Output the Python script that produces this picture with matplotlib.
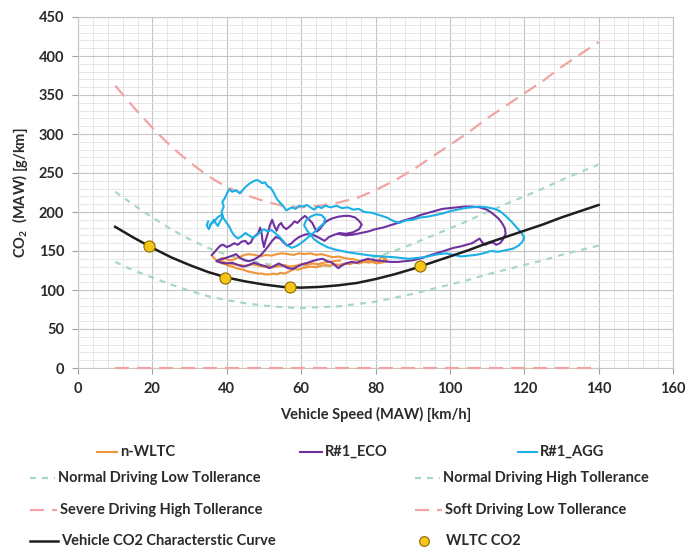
import matplotlib.pyplot as plt
from matplotlib.lines import Line2D
from matplotlib.ticker import MultipleLocator

plt.rcParams['font.family'] = ['Lato', 'DejaVu Sans']
plt.rcParams['mathtext.default'] = 'regular'

# characteristic curve and tolerance bands
speed = [10, 15, 20, 25, 30, 35, 40, 45, 50, 55, 60, 65, 70, 75, 80, 85, 90, 95, 100,
         105, 110, 115, 120, 125, 130, 135, 140]
char_curve = [181, 167, 154, 142, 132, 123, 116, 111, 107, 104, 103, 104, 106, 109, 114, 120, 127, 135, 143,
              151, 160, 168, 176, 184, 193, 201, 209]
normal_low = [136, 125, 116, 107, 99, 92, 87, 83, 80, 78, 77, 78, 79, 82, 85, 90, 95, 101, 107,
              113, 120, 126, 132, 138, 145, 151, 157]
normal_high = [226, 209, 193, 178, 165, 154, 145, 139, 134, 130, 129, 130, 132, 136, 142, 150, 159, 169, 179,
               189, 200, 210, 220, 230, 241, 251, 261]
severe_high = [362, 334, 308, 284, 264, 246, 232, 222, 214, 208, 206, 208, 212, 218, 228, 240, 254, 270, 286,
               302, 320, 336, 352, 368, 386, 402, 418]
soft_low = [0] * len(speed)

wltc_speed = [19, 39.5, 57, 92]
wltc_co2 = [156, 115, 104, 131]

# moving averaging window traces
nwltc_x = [36, 36.6, 37.3, 38, 38.8, 39.6, 40.5, 41.5, 42.5, 43.5, 44.5, 45.5, 46.5, 47.5, 48.5, 49.5, 50.5,
           51.5, 52.5, 53.5, 54.5, 55.5, 56.5, 57.3, 58.2, 59.2, 60.3, 61.5, 62.8, 64, 65.3, 66.5, 67.8, 69,
           70.3, 71.6, 73, 74.3, 75.6, 77, 78.3, 79.5, 80.5, 81.2, 81.8, 82.3, 82.7, 83, 82.4, 81.5, 80.3,
           79, 77.5, 76, 74.5, 73, 71.5, 70, 68.5, 67, 65.5, 64, 62.5, 61, 59.5, 58, 56.5, 55, 53.5,
           52, 50.5, 49, 47.5, 46, 44.8, 43.8, 42.8, 41.8, 40.8, 39.8, 38.8, 38, 39.2, 40.5, 42, 43.5,
           45, 46.5, 48, 49.5, 51, 52.5, 54, 55.5, 57, 58.5, 60, 61.5, 63, 64.5, 66, 67.5, 69, 70.5]
nwltc_y = [144, 141, 138, 136, 134, 133, 131, 130, 128, 127, 126, 124, 123, 122, 121, 121, 120,
           120, 121, 120, 122, 121, 123, 125, 127, 126, 128, 129, 130, 129, 131, 132, 131, 133,
           132, 134, 133, 135, 134, 136, 135, 137, 136, 140, 144, 139, 141, 137, 136, 135, 134,
           136, 138, 137, 139, 140, 141, 143, 142, 144, 146, 145, 147, 146, 147, 145, 146, 147, 146,
           144, 145, 143, 145, 146, 145, 143, 141, 139, 138, 140, 141, 139, 136, 134, 133, 132,
           131, 133, 132, 130, 131, 129, 131, 132, 130, 131, 133, 132, 134, 133, 135, 136, 137, 138]

eco_x = [36, 36.8, 37.5, 38.3, 39, 40, 41, 42, 43, 44, 45, 45.7, 46.5, 47, 47.8, 48.5, 49, 49.4, 49.6, 50,
         50.4, 51, 51.6, 52.2, 52.8, 53.4, 54, 54.6, 55.2, 56, 56.8, 57.5, 58.2, 59, 60, 61, 62, 63, 63.7,
         64.3, 65, 65.8, 66.5, 67.5, 68.5, 70, 71.5, 73, 74.5, 75.5, 76.3, 75.6, 74, 72, 70.5, 69, 67.5,
         66.3, 65.2, 64, 62.5, 61, 59.5, 58.3, 57.2, 56.2, 55.3, 54.3, 53.2, 52.2, 51.3, 50.3, 49.4, 48.4,
         47.3, 46, 44.8, 43.6, 42.5, 41.5, 40.3, 39, 38, 37.2, 38.5, 40, 41.5, 43, 44.5, 46, 47.3, 48.6,
         50, 51.5, 52.8, 54, 55.2, 56.5, 57.8, 59, 60.3, 61.8, 63, 64.5, 65.8, 67, 68.3, 69.3, 70, 70.8,
         72, 73.5, 75, 76.5, 78, 80, 82, 84, 86, 88, 90, 92.5, 95, 97, 99, 101, 103, 104.5, 106, 107,
         108, 108.7, 109.5, 110.5, 111.5, 112.5, 113.5, 114.3, 115, 114.8, 114, 113, 111.5, 110, 108, 106,
         104, 102, 100, 98, 96.5, 95, 93.5, 92, 90.5, 89, 87.5, 86, 84, 82, 80, 78, 76, 74, 72, 70]
eco_y = [145, 149, 153, 157, 158, 155, 157, 160, 158, 162, 163, 159, 161, 166, 170, 173, 180, 172, 164, 155,
         163, 172, 183, 190, 182, 176, 183, 186, 181, 178, 181, 184, 188, 186, 191, 195, 191, 186, 179,
         175, 178, 183, 187, 190, 192, 194, 195, 195, 193, 189, 184, 178, 174, 172, 173, 171, 168,
         163, 166, 169, 172, 171, 168, 164, 159, 157, 161, 166, 168, 163, 157, 151, 146, 142,
         139, 137, 138, 141, 146, 144, 142, 140, 139, 137, 135, 134, 135, 132, 130, 132, 135, 133,
         131, 128, 131, 134, 131, 128, 127, 130, 133, 135, 137, 139, 140, 137, 135, 131, 128, 131,
         134, 136, 135, 138, 140, 138, 137, 136, 136, 137, 138, 141, 145, 148, 151, 154, 156, 158, 160, 163,
         166, 161, 158, 160, 161, 158, 160, 165, 172, 179, 186, 192, 198, 203, 206, 207,
         207, 206, 205, 204, 202, 200, 198, 196, 193, 191, 189, 186, 183, 180, 178, 175, 173, 171, 170, 172]

agg_x = [35, 34.6, 35.2, 35.8, 36.5, 37, 37.6, 38.2, 39, 38.6, 39.2, 38.8, 39.5, 40, 40.6, 41.5, 42.5, 43.5,
         44.3, 45, 46, 47, 48, 48.7, 49.5, 50.3, 51, 51.8, 52.5, 53, 53.6, 54.5, 55.3, 56, 56.8, 57.5, 58.5,
         59.5, 60.5, 61.5, 62.5, 63.5, 64.5, 65.5, 66.5, 68, 69.5, 71, 72.5, 74, 75.5, 77, 79, 81, 83, 85,
         86.5, 88, 90, 92, 94, 96, 98, 100, 102, 104, 106, 108, 110, 112, 113.5, 115, 116.5, 118, 119.3,
         120, 119.5, 118.5, 117, 115, 113, 111, 109, 107, 105, 103, 101, 99, 97, 95, 93, 91, 89, 87, 85,
         82, 79, 76, 73, 71, 69, 67, 65, 63.5, 62.5, 61.5, 60.8, 61.3, 62.5, 64, 65.5, 66.5, 66, 64.8,
         63.5, 62, 60.5, 59, 57.5, 56, 55, 54, 53, 52, 51, 50, 49, 48, 47, 46, 45, 44, 43, 42, 41.3, 40.7,
         40, 39.3, 38.5, 37.5, 36.5, 35.5]
agg_y = [188, 183, 178, 185, 190, 186, 182, 188, 194, 200, 207, 213, 218, 223, 229, 226, 228, 224,
         228, 232, 236, 239, 241, 240, 237, 238, 233, 231, 226, 221, 216, 211, 207, 202, 204, 206, 204,
         208, 207, 209, 206, 203, 207, 205, 208, 206, 208, 205, 206, 203, 204, 200, 199, 196, 193, 188,
         186, 189, 190, 193, 194, 196, 198, 201, 203, 205, 206, 207, 206, 204, 201, 195, 188, 180, 173,
         167, 162, 157, 153, 151, 149, 150, 147, 145, 144, 143, 145, 147, 146, 144, 142, 141, 140, 141, 142,
         143, 144, 146, 148, 150, 152, 155, 160, 165, 171, 177, 183, 189, 194, 197, 196, 191, 185, 180,
         174, 168, 162, 157, 154, 158, 164, 169, 173, 177, 175, 178, 174, 170, 167, 170, 173, 169, 166, 170, 175, 181,
         186, 191, 196, 193, 187, 184]

orange = '#f0953a'
purple = '#7030a0'
cyan = '#1cb0e8'
green = '#a6d8c2'
pink = '#f2a3a3'
dark = '#1e1e1e'

styles = {
    'green': dict(color=green, lw=1.6, dashes=(2.7, 2.7)),
    'pink': dict(color=pink, lw=1.6, dashes=(6.3, 3.6)),
    'black': dict(color=dark, lw=1.8),
    'orange': dict(color=orange, lw=1.5),
    'purple': dict(color=purple, lw=1.5),
    'cyan': dict(color=cyan, lw=1.5),
}

W, H = 692, 550
fig = plt.figure(figsize=(W / 100, H / 100), dpi=100)
ax = fig.add_axes([78 / W, 1 - 368 / H, 595 / W, 351 / H])

ax.plot(speed, normal_low, **styles['green'])
ax.plot(speed, normal_high, **styles['green'])
ax.plot(speed, severe_high, **styles['pink'])
ax.plot(speed, soft_low, clip_on=False, zorder=3, **styles['pink'])
ax.plot(nwltc_x, nwltc_y, **styles['orange'])
ax.plot(eco_x, eco_y, **styles['purple'])
ax.plot(agg_x, agg_y, **styles['cyan'])
ax.plot(speed, char_curve, **styles['black'])
ax.plot(wltc_speed, wltc_co2, 'o', ms=8, mfc='#f5c518', mec='#8a6a00', mew=0.8, zorder=5)

ax.set_xlim(0, 160)
ax.set_ylim(0, 450)
ax.xaxis.set_major_locator(MultipleLocator(20))
ax.xaxis.set_minor_locator(MultipleLocator(4))
ax.yaxis.set_major_locator(MultipleLocator(50))
ax.yaxis.set_minor_locator(MultipleLocator(10))
ax.grid(which='major', color='#c4c4c4', lw=0.8)
ax.grid(which='minor', color='#e2e2e2', lw=0.6)
ax.set_axisbelow(True)
ax.tick_params(which='major', length=4, color='#a0a0a0', labelsize=10.5, labelcolor='#2a2a2a', pad=6)
ax.tick_params(which='minor', length=0)
for lab in ax.get_xticklabels() + ax.get_yticklabels():
    lab.set_fontweight('bold')
for sp in ax.spines.values():
    sp.set_color('#c4c4c4')
    sp.set_linewidth(0.8)

ax.set_xlabel('Vehicle Speed (MAW) [km/h]', fontsize=10.5, fontweight='bold', color='#2a2a2a', labelpad=8)
ax.set_ylabel('CO$_2$  (MAW) [g/km]', fontsize=10.5, fontweight='bold', color='#2a2a2a', labelpad=6)


# legend drawn by hand so it keeps the original placement
def fx(x):
    return x / W


def fy(y):
    return 1 - y / H


legend_rows = [
    ('n-WLTC', 'orange', 97, 117, 452),
    ('R#1_ECO', 'purple', 300, 322, 452),
    ('R#1_AGG', 'cyan', 518, 537, 452),
    ('Normal Driving Low Tollerance', 'green', 30, 55, 478),
    ('Normal Driving High Tollerance', 'green', 415, 440, 478),
    ('Severe Driving High Tollerance', 'pink', 30, 57, 510),
    ('Soft Driving Low Tollerance', 'pink', 415, 442, 510),
    ('Vehicle CO2 Characterstic Curve', 'black', 30, 58, 541),
]
for label, key, x0, x1, y in legend_rows:
    fig.add_artist(Line2D([fx(x0), fx(x1)], [fy(y), fy(y)], transform=fig.transFigure, **styles[key]))
    fig.text(fx(x1 + 3), fy(y), label, fontsize=10.5, fontweight='bold', color='#2a2a2a', va='center')

fig.add_artist(Line2D([fx(424)], [fy(541)], transform=fig.transFigure, marker='o', ms=7,
                      mfc='#f5c518', mec='#8a6a00', mew=0.8, lw=0))
fig.text(fx(446), fy(541), 'WLTC CO2', fontsize=10.5, fontweight='bold', color='#2a2a2a', va='center')

fig.savefig('out.png', dpi=100)
